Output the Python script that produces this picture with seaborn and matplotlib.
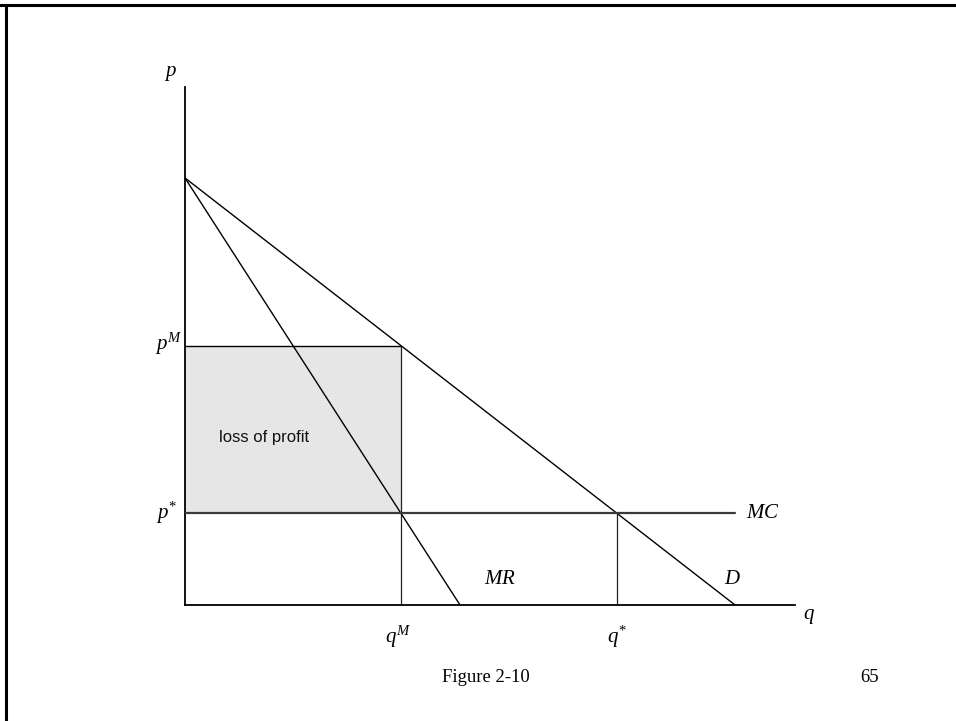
import matplotlib
matplotlib.use("Agg")
import matplotlib.pyplot as plt
import seaborn as sns
import pandas as pd

sns.set_theme(style="white")
plt.rcParams["font.family"] = ["Liberation Serif", "DejaVu Serif"]
plt.rcParams["text.color"] = "black"
plt.rcParams["mathtext.fontset"] = "custom"
plt.rcParams["mathtext.rm"] = "Liberation Serif"
plt.rcParams["mathtext.it"] = "Liberation Serif:italic"

# Linear demand p = 10 - q, marginal revenue p = 10 - 2q, constant marginal cost
demand_q = [0.0, 10.0]
demand_p = [10.0, 0.0]
mr_q = [0.0, 5.0]
mr_p = [10.0, 0.0]
mc_q = [0.0, 10.0]
mc_p = [2.15, 2.15]

q_monopoly = 3.925
p_monopoly = 6.075
q_competitive = 7.85
p_competitive = 2.15

q_max = 11.09
p_max = 12.13

demand = pd.DataFrame({"q": demand_q, "p": demand_p})
mr = pd.DataFrame({"q": mr_q, "p": mr_p})
mc = pd.DataFrame({"q": mc_q, "p": mc_p})

fig = plt.figure(figsize=(9.56, 7.21), dpi=100)

# page frame: rules along the top and left edges
fig.add_artist(plt.Line2D([0, 1], [1 - 4.5 / 721, 1 - 4.5 / 721], transform=fig.transFigure,
                          color="black", lw=2.2))
fig.add_artist(plt.Line2D([5.5 / 956, 5.5 / 956], [0, 1 - 4.5 / 721], transform=fig.transFigure,
                          color="black", lw=2.2))

ax = fig.add_axes([185 / 956, (721 - 605) / 721, 610 / 956, 518 / 721])
ax.set_xlim(0, q_max)
ax.set_ylim(0, p_max)

# loss-of-profit rectangle
ax.fill_between([0, q_monopoly], p_competitive, p_monopoly, color="#e6e6e6", lw=0, zorder=1)
ax.plot([0, q_monopoly], [p_monopoly, p_monopoly], color="black", lw=1.0, zorder=2)
ax.plot([q_monopoly, q_monopoly], [0, p_monopoly], color="#222222", lw=0.9, zorder=2)
ax.plot([q_competitive, q_competitive], [0, p_competitive], color="#222222", lw=0.9, zorder=2)

sns.lineplot(data=demand, x="q", y="p", ax=ax, color="black", lw=1.0, zorder=3)
sns.lineplot(data=mr, x="q", y="p", ax=ax, color="black", lw=1.0, zorder=3)
sns.lineplot(data=mc, x="q", y="p", ax=ax, color="#3a3a3a", lw=1.6, zorder=3)

for side in ["top", "right"]:
    ax.spines[side].set_visible(False)
for side in ["left", "bottom"]:
    ax.spines[side].set_color("black")
    ax.spines[side].set_linewidth(1.3)
ax.set_xticks([])
ax.set_yticks([])
ax.set_xlabel("")
ax.set_ylabel("")
ax.patch.set_alpha(0)

fs = 15
ax.text(-0.27, p_max + 0.1, r"$p$", ha="center", va="bottom", fontsize=fs)
ax.text(-0.05, p_monopoly + 0.05, r"$p^{M}$", ha="right", va="center", fontsize=fs)
ax.text(-0.15, p_competitive, r"$p^{*}$", ha="right", va="center", fontsize=fs)
ax.text(q_monopoly - 0.05, -0.45, r"$q^{M}$", ha="center", va="top", fontsize=fs)
ax.text(q_competitive, -0.45, r"$q^{*}$", ha="center", va="top", fontsize=fs)
ax.text(q_max + 0.15, -0.05, r"$q$", ha="left", va="top", fontsize=fs)
ax.text(mc_q[1] + 0.2, p_competitive, r"$MC$", ha="left", va="center", fontsize=fs)
ax.text(mr_q[1] + 0.72, 0.6, r"$MR$", ha="center", va="center", fontsize=fs)
ax.text(mc_q[1] - 0.05, 0.6, r"$D$", ha="center", va="center", fontsize=fs)
ax.text(1.44, 3.93, "loss of profit", ha="center", va="center",
        fontsize=12, family=["Liberation Sans", "DejaVu Sans"], color="#111111")

fig.text(486 / 956, 1 - 677 / 721, "Figure 2-10", ha="center", va="center", fontsize=13.4)
fig.text(870 / 956, 1 - 677 / 721, "65", ha="center", va="center", fontsize=13.4)

fig.savefig("out.png", dpi=100)
